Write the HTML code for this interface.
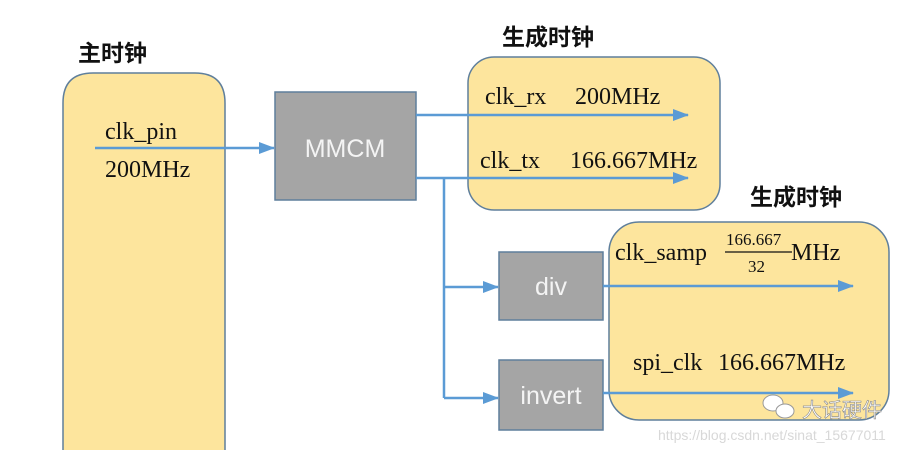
<!DOCTYPE html>
<html><head><meta charset="utf-8"><style>
html,body{margin:0;padding:0;background:#fff;width:924px;height:450px;overflow:hidden}
svg{display:block}
.cn{font-family:"Liberation Sans","Noto Sans CJK SC",sans-serif;font-weight:bold;font-size:23px;fill:#111}
.s{font-family:"Liberation Serif",serif;font-size:24px;fill:#111}
.w{font-family:"Liberation Sans",sans-serif;font-size:25px;fill:#f4f4f4}
</style></head><body>
<svg width="924" height="450" viewBox="0 0 924 450" xmlns="http://www.w3.org/2000/svg">
<defs>
<marker id="b" markerWidth="16" markerHeight="12" refX="15" refY="6" orient="auto" markerUnits="userSpaceOnUse"><path d="M0,0 L16,6 L0,12z" fill="#5b9bd5"/></marker></defs>
<text class="cn" x="78" y="61">主时钟</text>
<path d="M63,452 L63,103 Q63,73 93,73 L195,73 Q225,73 225,103 L225,452" fill="#fde59d" stroke="#5f7f9c" stroke-width="1.5"/>
<text class="s" x="105" y="139">clk_pin</text>
<text class="s" x="105" y="177">200MHz</text>
<rect x="275" y="92" width="141" height="108" fill="#a5a5a5" stroke="#5f7f9c" stroke-width="1.5"/>
<text class="w" x="345" y="157" text-anchor="middle">MMCM</text>
<text class="cn" x="502" y="45">生成时钟</text>
<rect x="468" y="57" width="252" height="153" rx="26" fill="#fde59d" stroke="#5f7f9c" stroke-width="1.5"/>
<text class="s" x="485" y="104">clk_rx</text><text class="s" x="575" y="104">200MHz</text>
<text class="s" x="480" y="168">clk_tx</text><text class="s" x="570" y="168">166.667MHz</text>
<text class="cn" x="750" y="205">生成时钟</text>
<rect x="609" y="222" width="280" height="198" rx="30" fill="#fde59d" stroke="#5f7f9c" stroke-width="1.5"/>
<text class="s" x="615" y="260">clk_samp</text>
<text class="s" x="726" y="245" style="font-size:17px">166.667</text>
<line x1="725" y1="252" x2="792" y2="252" stroke="#111" stroke-width="1.3"/>
<text class="s" x="748" y="272" style="font-size:17px">32</text>
<text class="s" x="791" y="260">MHz</text>
<text class="s" x="633" y="370">spi_clk</text><text class="s" x="718" y="370">166.667MHz</text>
<rect x="499" y="252" width="104" height="68" fill="#a5a5a5" stroke="#5f7f9c" stroke-width="1.5"/>
<text class="w" x="551" y="295" text-anchor="middle">div</text>
<rect x="499" y="360" width="104" height="70" fill="#a5a5a5" stroke="#5f7f9c" stroke-width="1.5"/>
<text class="w" x="551" y="404" text-anchor="middle">invert</text>
<g stroke="#5b9bd5" stroke-width="2.5" fill="none">
<line x1="95" y1="148" x2="274" y2="148" marker-end="url(#b)"/>
<line x1="416" y1="115" x2="688" y2="115" marker-end="url(#b)"/>
<line x1="416" y1="178" x2="688" y2="178" marker-end="url(#b)"/>
<polyline points="444,178 444,398"/>
<line x1="444" y1="287" x2="498" y2="287" marker-end="url(#b)"/>
<line x1="444" y1="398" x2="498" y2="398" marker-end="url(#b)"/>
<line x1="603" y1="286" x2="853" y2="286" marker-end="url(#b)"/>
<line x1="603" y1="393" x2="853" y2="393" marker-end="url(#b)"/>
</g>
<g fill="#fff" stroke="#999" stroke-width="1"><ellipse cx="773" cy="403" rx="10" ry="8"/><ellipse cx="785" cy="411" rx="9" ry="7"/></g>
<text x="802" y="417" style="font-family:'Liberation Sans','Noto Sans CJK SC',sans-serif;font-size:20px;fill:#fff;stroke:#888;stroke-width:0.6">大话硬件</text>
<text x="658" y="440" style="font-family:'Liberation Sans',sans-serif;font-size:14px;fill:#d8d8d8">https://blog.csdn.net/sinat_15677011</text>
</svg>
</body></html>
